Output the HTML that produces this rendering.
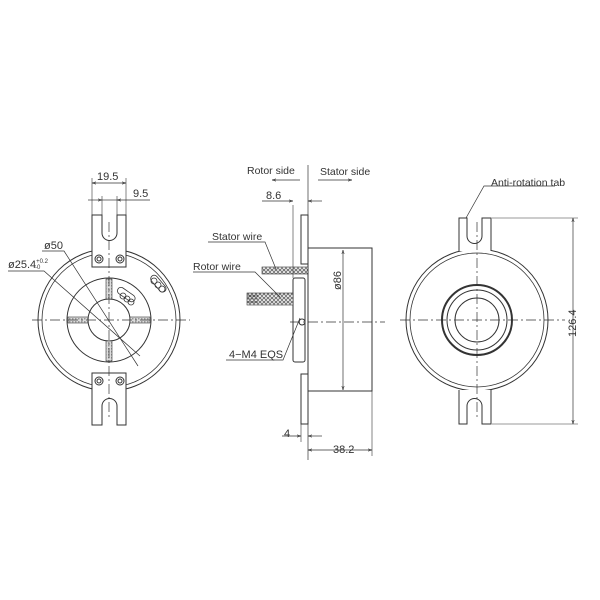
<!DOCTYPE html>
<html><head><meta charset="utf-8"><style>
html,body{margin:0;padding:0;background:#fff;width:600px;height:600px;overflow:hidden}
svg{display:block}
text{font-family:"Liberation Sans",sans-serif;fill:#333}
</style></head><body>
<svg width="600" height="600" viewBox="0 0 600 600" xmlns="http://www.w3.org/2000/svg">
<defs>
<marker id="a" viewBox="0 0 10 10" refX="10" refY="5" markerWidth="6" markerHeight="6" orient="auto-start-reverse"><path d="M0,2 L10,5 L0,8" fill="none" stroke="#333" stroke-width="1.2"/></marker>
<pattern id="w" width="4" height="4" patternUnits="userSpaceOnUse"><rect width="4" height="4" fill="#fff"/><circle cx="2" cy="2" r="1.4" fill="none" stroke="#444" stroke-width="0.8"/></pattern>
<pattern id="g" width="3" height="3" patternUnits="userSpaceOnUse"><rect width="3" height="3" fill="#ddd"/><rect width="1.5" height="1.5" fill="#999"/></pattern>
</defs>
<g fill="none" stroke="#333" stroke-width="1">
<!-- LEFT VIEW -->
<circle cx="109" cy="320" r="71"/>
<circle cx="109" cy="320" r="67" stroke-width="0.8"/>
<circle cx="109" cy="320" r="42"/>
<circle cx="109" cy="320" r="21"/>
<rect x="106" y="279" width="6" height="20" fill="url(#g)" stroke-width="0.6"/>
<rect x="106" y="341" width="6" height="20" fill="url(#g)" stroke-width="0.6"/>
<rect x="68" y="317" width="20" height="6" fill="url(#g)" stroke-width="0.6"/>
<rect x="130" y="317" width="20" height="6" fill="url(#g)" stroke-width="0.6"/>
<g stroke-width="0.8"><circle cx="123" cy="296" r="3"/><circle cx="127" cy="299" r="3"/><circle cx="131" cy="302" r="3"/><rect x="116" y="291" width="20" height="7" rx="3.5" transform="rotate(35 126 295)"/>
<circle cx="154" cy="281" r="3"/><circle cx="158" cy="285" r="3"/><circle cx="162" cy="289" r="3"/><rect x="148" y="280" width="20" height="7" rx="3.5" transform="rotate(50 158 284)"/></g>
<path d="M92,267 V215 H102 V233 A7.5,7.5 0 0 0 117,233 V215 H126 V267 Z" fill="#fff"/>
<circle cx="99" cy="259" r="4"/><circle cx="99" cy="259" r="2"/><circle cx="120" cy="259" r="4"/><circle cx="120" cy="259" r="2"/>
<path d="M92,373 V425 H102 V406 A7.5,7.5 0 0 1 117,406 V425 H126 V373 Z" fill="#fff"/>
<circle cx="99" cy="381" r="4"/><circle cx="99" cy="381" r="2"/><circle cx="120" cy="381" r="4"/><circle cx="120" cy="381" r="2"/>
<g stroke-dasharray="10,3,2,3" stroke-width="0.7"><line x1="32" y1="320" x2="190" y2="320"/><line x1="109" y1="222" x2="109" y2="420"/></g>
<line x1="92" y1="178" x2="92" y2="215" stroke-width="0.6"/><line x1="126" y1="178" x2="126" y2="215" stroke-width="0.6"/>
<line x1="92" y1="183" x2="126" y2="183" marker-start="url(#a)" marker-end="url(#a)" stroke-width="0.7"/>
<line x1="102" y1="196" x2="102" y2="215" stroke-width="0.6"/><line x1="117" y1="196" x2="117" y2="215" stroke-width="0.6"/>
<line x1="88" y1="200" x2="102" y2="200" marker-end="url(#a)" stroke-width="0.7"/><line x1="150" y1="200" x2="117" y2="200" marker-end="url(#a)" stroke-width="0.7"/>
<line x1="102" y1="200" x2="117" y2="200" stroke-width="0.7"/>
<polyline points="42,251 64,251 138,366" stroke-width="0.7"/>
<polyline points="8,271 44,271 140,356" stroke-width="0.7"/>
<!-- MIDDLE VIEW -->
<line x1="308" y1="165" x2="308" y2="460" stroke-width="0.7"/>
<line x1="300" y1="180" x2="272" y2="180" marker-end="url(#a)" stroke-width="0.7"/>
<line x1="318" y1="180" x2="352" y2="180" marker-end="url(#a)" stroke-width="0.7"/>
<rect x="301" y="215" width="7" height="49" fill="#fff"/>
<rect x="301" y="374" width="7" height="50" fill="#fff"/>
<rect x="308" y="248" width="64" height="143"/>
<rect x="293" y="278" width="12" height="84" rx="2" fill="#fff"/>
<rect x="262" y="267" width="46" height="7" fill="url(#w)" stroke-width="0.6"/>
<rect x="247" y="293" width="46" height="12" fill="url(#w)" stroke-width="0.6"/>
<line x1="247" y1="296" x2="258" y2="296" stroke-width="0.6"/><line x1="247" y1="299" x2="258" y2="299" stroke-width="0.6"/><line x1="247" y1="302" x2="258" y2="302" stroke-width="0.6"/>
<line x1="293" y1="205" x2="293" y2="278" stroke-width="0.6"/>
<line x1="262" y1="201" x2="293" y2="201" marker-end="url(#a)" stroke-width="0.7"/><line x1="322" y1="201" x2="308" y2="201" marker-end="url(#a)" stroke-width="0.7"/>
<line x1="372" y1="248" x2="345" y2="248" stroke-width="0.6"/>
<line x1="343" y1="250" x2="343" y2="390" marker-start="url(#a)" marker-end="url(#a)" stroke-width="0.7"/>
<g stroke-dasharray="10,3,2,3" stroke-width="0.7"><line x1="290" y1="322" x2="385" y2="322"/></g>
<circle cx="302" cy="322" r="3"/>
<line x1="372" y1="391" x2="372" y2="456" stroke-width="0.6"/>
<line x1="301" y1="424" x2="301" y2="442" stroke-width="0.6"/>
<line x1="282" y1="436" x2="301" y2="436" marker-end="url(#a)" stroke-width="0.7"/><line x1="322" y1="436" x2="308" y2="436" marker-end="url(#a)" stroke-width="0.7"/>
<line x1="308" y1="450" x2="372" y2="450" marker-start="url(#a)" marker-end="url(#a)" stroke-width="0.7"/>
<polyline points="208,242 265,242 276,269" stroke-width="0.7"/>
<polyline points="193,272 255,272 280,297" stroke-width="0.7"/>
<polyline points="226,360 283,360 300,318" stroke-width="0.7"/>
<!-- RIGHT VIEW -->
<circle cx="477" cy="320" r="71"/><circle cx="477" cy="320" r="67" stroke-width="0.8"/>
<circle cx="477" cy="320" r="35" stroke-width="2"/><circle cx="477" cy="320" r="30"/><circle cx="477" cy="320" r="22"/>
<path d="M459,251 V218 H467 V236 A7.5,7.5 0 0 0 482,236 V218 H491 V251" fill="#fff"/>
<path d="M459,390 V424 H467 V406 A7.5,7.5 0 0 1 482,406 V424 H491 V390" fill="#fff"/>
<g stroke-dasharray="10,3,2,3" stroke-width="0.7"><line x1="400" y1="320" x2="565" y2="320"/><line x1="477" y1="222" x2="477" y2="420"/></g>
<polyline points="555,186 484,186 466,218" stroke-width="0.7"/>
<line x1="492" y1="218" x2="578" y2="218" stroke-width="0.6"/><line x1="492" y1="424" x2="578" y2="424" stroke-width="0.6"/>
<line x1="573" y1="218" x2="573" y2="424" marker-start="url(#a)" marker-end="url(#a)" stroke-width="0.7"/>
</g>
<g font-size="11">
<text x="97" y="180">19.5</text><text x="133" y="197">9.5</text>
<text x="44" y="249">ø50</text><text x="8" y="268">ø25.4<tspan font-size="6" dy="-5">+0.2</tspan><tspan font-size="6" dx="-13" dy="6">-0</tspan></text>
<text x="247" y="174" font-size="10.5">Rotor side</text><text x="320" y="175" font-size="10.5">Stator side</text>
<text x="266" y="199">8.6</text>
<text x="212" y="240" font-size="10.5">Stator wire</text><text x="193" y="270" font-size="10.5">Rotor wire</text>
<text x="229" y="358">4−M4  EQS</text>
<text transform="translate(341,290) rotate(-90)">ø86</text>
<text x="284" y="437">4</text><text x="333" y="453">38.2</text>
<text x="491" y="186" font-size="10.5">Anti-rotation tab</text>
<text transform="translate(576,337) rotate(-90)">126.4</text>
</g>
</svg>
</body></html>
